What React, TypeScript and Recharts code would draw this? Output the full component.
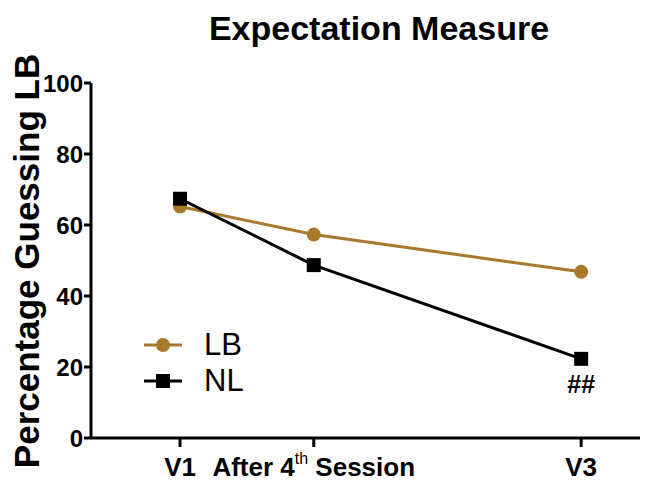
import React from "react";
import { LineChart, Line, XAxis, YAxis, Legend, LabelList } from "recharts";

const xValues = [1, 2, 4];
const xLabels = ["V1", "After 4th Session", "V3"];
const lbValues = [65.2, 57.3, 46.8];
const nlValues = [67.4, 48.7, 22.3];
const nlMarks = ["", "", "##"];
const yTicks = [0, 20, 40, 60, 80, 100];

const LB_COLOR = "#A8782C";
const FONT = "'Liberation Sans', Arial, sans-serif";

const data = xValues.map((x, i) => ({
  x,
  label: xLabels[i],
  LB: lbValues[i],
  NL: nlValues[i],
  mark: nlMarks[i],
}));

const XTick = (props: any) => {
  const { x, y, payload } = props;
  const idx = xValues.indexOf(payload.value);
  const label = idx >= 0 ? xLabels[idx] : "";
  const m = label.match(/^(.*\d)(th)(.*)$/);
  return (
    <text x={x} y={y + 27} textAnchor="middle" fontFamily={FONT} fontSize={26} fontWeight="bold" fill="#000">
      {m ? (
        <>
          <tspan>{m[1]}</tspan>
          <tspan fontSize={16} fontWeight="normal" dy={-12}>{m[2]}</tspan>
          <tspan dy={12}>{m[3]}</tspan>
        </>
      ) : (
        label
      )}
    </text>
  );
};

const SquareDot = (props: any) => {
  const { cx, cy } = props;
  if (cx == null || cy == null) return null;
  return <rect x={cx - 7} y={cy - 7} width={14} height={14} fill="#000" />;
};

const LegendContent = () => (
  <div style={{ fontFamily: FONT }}>
    {[
      { name: "LB", color: LB_COLOR, shape: "circle" },
      { name: "NL", color: "#000", shape: "square" },
    ].map((it) => (
      <div key={it.name} style={{ display: "flex", alignItems: "center", height: 36 }}>
        <svg width={46} height={20}>
          <line x1={4} y1={10} x2={42} y2={10} stroke={it.color} strokeWidth={3} />
          {it.shape === "circle" ? (
            <circle cx={23} cy={10} r={7} fill={it.color} />
          ) : (
            <rect x={16} y={3} width={14} height={14} fill={it.color} />
          )}
        </svg>
        <span style={{ fontSize: 31, marginLeft: 18, color: "#000" }}>{it.name}</span>
      </div>
    ))}
  </div>
);

export default function App() {
  return (
    <div style={{ position: "absolute", left: 0, top: 0, background: "#fff" }}>
      <LineChart width={646} height={481} data={data} margin={{ top: 83, right: 6, bottom: 0, left: 0 }}>
        <text x={379} y={40} textAnchor="middle" fontFamily={FONT} fontSize={34} fontWeight="bold" fill="#000">
          Expectation Measure
        </text>
        <text
          x={39}
          y={261}
          transform="rotate(-90,39,261)"
          textAnchor="middle"
          fontFamily={FONT}
          fontSize={35}
          fontWeight="bold"
          fill="#000"
        >
          Percentage Guessing LB
        </text>
        <XAxis
          dataKey="x"
          type="number"
          domain={[0.334, 4.44]}
          ticks={xValues}
          tick={<XTick />}
          tickLine={{ stroke: "#000", strokeWidth: 3 }}
          tickSize={9}
          axisLine={{ stroke: "#000", strokeWidth: 3 }}
          height={43}
          interval={0}
        />
        <YAxis
          type="number"
          domain={[0, 100]}
          ticks={yTicks}
          width={91}
          tickSize={7}
          tickLine={{ stroke: "#000", strokeWidth: 3 }}
          axisLine={{ stroke: "#000", strokeWidth: 3 }}
          tick={{ fill: "#000", fontSize: 24, fontWeight: "bold", fontFamily: FONT }}
          tickMargin={1}
        />
        <Legend
          layout="vertical"
          verticalAlign="middle"
          align="center"
          wrapperStyle={{ left: 140, top: 327, width: 140 }}
          content={<LegendContent />}
        />
        <Line
          dataKey="LB"
          stroke={LB_COLOR}
          strokeWidth={3}
          dot={{ r: 7, fill: LB_COLOR, stroke: LB_COLOR, strokeWidth: 0 }}
          isAnimationActive={false}
        />
        <Line
          dataKey="NL"
          stroke="#000"
          strokeWidth={3}
          dot={<SquareDot />}
          isAnimationActive={false}
        >
          <LabelList
            dataKey="mark"
            position="bottom"
            offset={16}
            fill="#000"
            fontSize={25}
            fontWeight="bold"
            fontFamily={FONT}
          />
        </Line>
      </LineChart>
    </div>
  );
}
